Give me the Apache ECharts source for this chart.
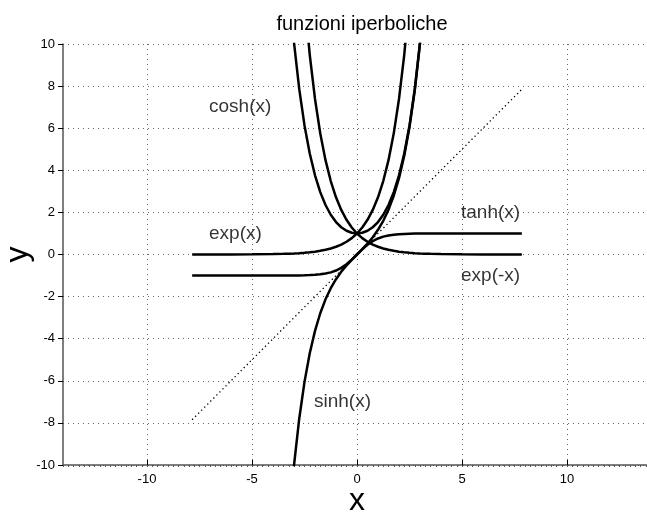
<!DOCTYPE html>
<html>
<head>
<meta charset="utf-8">
<title>funzioni iperboliche</title>
<script src="https://cdn.jsdelivr.net/npm/echarts@6/dist/echarts.min.js"></script>
<style>
  html, body { margin: 0; padding: 0; background: #fff; }
  #chart { width: 647px; height: 513px; }
</style>
</head>
<body>
<div id="chart"></div>
<script>
// campioni (x da -2.5pi a 2.5pi)
var xs = [-7.85, -7, -6, -5, -4, -3.5, -3.25, -3, -2.75, -2.5, -2.25, -2, -1.75, -1.5, -1.25, -1, -0.75, -0.5, -0.25, 0,
  0.25, 0.5, 0.75, 1, 1.25, 1.5, 1.75, 2, 2.25, 2.5, 2.75, 3, 3.25, 3.5, 4, 5, 6, 7, 7.85];

var expVals = [0.0004, 0.0009, 0.0025, 0.0067, 0.0183, 0.0302, 0.0388, 0.0498, 0.0639, 0.0821, 0.1054, 0.1353, 0.1738, 0.2231, 0.2865, 0.3679, 0.4724, 0.6065, 0.7788, 1,
  1.284, 1.6487, 2.117, 2.7183, 3.4903, 4.4817, 5.7546, 7.3891, 9.4877, 12.1825, 15.6426, 20.0855, 25.79, 33.115, 54.598, 148.41, 403.43, 1096.6, 2565.7];

var expNegVals = [2565.7, 1096.6, 403.43, 148.41, 54.598, 33.115, 25.79, 20.0855, 15.6426, 12.1825, 9.4877, 7.3891, 5.7546, 4.4817, 3.4903, 2.7183, 2.117, 1.6487, 1.284, 1,
  0.7788, 0.6065, 0.4724, 0.3679, 0.2865, 0.2231, 0.1738, 0.1353, 0.1054, 0.0821, 0.0639, 0.0498, 0.0388, 0.0302, 0.0183, 0.0067, 0.0025, 0.0009, 0.0004];

var coshVals = [1282.8, 548.32, 201.72, 74.21, 27.308, 16.573, 12.914, 10.0677, 7.8533, 6.1323, 4.7966, 3.7622, 2.9642, 2.3524, 1.8884, 1.5431, 1.2947, 1.1276, 1.0314, 1,
  1.0314, 1.1276, 1.2947, 1.5431, 1.8884, 2.3524, 2.9642, 3.7622, 4.7966, 6.1323, 7.8533, 10.0677, 12.914, 16.573, 27.308, 74.21, 201.72, 548.32, 1282.8];

var sinhVals = [-1282.8, -548.32, -201.71, -74.203, -27.29, -16.543, -12.876, -10.0179, -7.7894, -6.0502, -4.6912, -3.6269, -2.7904, -2.1293, -1.6019, -1.1752, -0.8223, -0.5211, -0.2526, 0,
  0.2526, 0.5211, 0.8223, 1.1752, 1.6019, 2.1293, 2.7904, 3.6269, 4.6912, 6.0502, 7.7894, 10.0179, 12.876, 16.543, 27.29, 74.203, 201.71, 548.32, 1282.8];

var tanhVals = [-1, -1, -1, -0.9999, -0.9993, -0.9982, -0.997, -0.9951, -0.9919, -0.9866, -0.978, -0.964, -0.9414, -0.9051, -0.8483, -0.7616, -0.6351, -0.4621, -0.2449, 0,
  0.2449, 0.4621, 0.6351, 0.7616, 0.8483, 0.9051, 0.9414, 0.964, 0.978, 0.9866, 0.9919, 0.9951, 0.997, 0.9982, 0.9993, 0.9999, 1, 1, 1];

var identityX = [-7.85, 7.85];
var identityY = [-7.85, 7.85];

var xTicks = [-10, -5, 0, 5, 10];

// etichette di testo (coordinate nei dati)
var labelNames = ['cosh(x)', 'exp(x)', 'tanh(x)', 'exp(-x)', 'sinh(x)'];
var labelX = [-7, -7, 5, 5, -2];
var labelY = [7, 1, 2, -1, -7];

var FONT = '"Liberation Sans", Arial, Helvetica, sans-serif';

function pairs(xv, yv) {
  return xv.map(function (x, i) { return [x, yv[i]]; });
}

function curve(name, vals) {
  return {
    name: name,
    type: 'line',
    data: pairs(xs, vals),
    symbol: 'none',
    clip: true,
    lineStyle: { color: '#000', width: 2.5 },
    z: 3
  };
}

var chart = echarts.init(document.getElementById('chart'), null, { renderer: 'canvas' });

var option = {
  backgroundColor: '#fff',
  animation: false,
  title: {
    text: 'funzioni iperboliche',
    left: 357,
    top: 9,
    textAlign: 'center',
    textStyle: { fontFamily: FONT, fontSize: 20, fontWeight: 'normal', color: '#000' }
  },
  grid: { left: 63, top: 44, right: -4, bottom: 48, containLabel: false, outerBoundsMode: 'none' },
  xAxis: [{
    type: 'value',
    min: -14,
    max: 14,
    name: 'x',
    nameLocation: 'middle',
    nameGap: 20,
    nameMoveOverlap: false,
    nameTextStyle: { fontFamily: FONT, fontSize: 32, color: '#000' },
    axisLine: { show: true, onZero: false, lineStyle: { color: '#555', width: 1.5 } },
    axisTick: { show: true, inside: true, length: 5, customValues: xTicks, lineStyle: { color: '#000', width: 1 } },
    axisLabel: { customValues: xTicks, margin: 8, fontFamily: FONT, fontSize: 13, color: '#000' },
    splitLine: { show: true, lineStyle: { color: '#666', width: 1, type: [1, 4] } }
  }, {
    // tacche minori
    type: 'value',
    min: -14,
    max: 14,
    interval: 0.25,
    position: 'bottom',
    axisLine: { show: false, onZero: false },
    axisTick: { show: true, inside: false, length: 2, lineStyle: { color: '#555', width: 1 } },
    axisLabel: { show: false },
    splitLine: { show: false }
  }],
  yAxis: {
    type: 'value',
    min: -10,
    max: 10,
    interval: 2,
    name: 'y',
    nameLocation: 'middle',
    nameGap: 29,
    nameRotate: 90,
    nameMoveOverlap: false,
    nameTextStyle: { fontFamily: FONT, fontSize: 32, color: '#000' },
    axisLine: { show: true, onZero: false, lineStyle: { color: '#555', width: 1.5 } },
    axisTick: { show: true, inside: false, length: 5, lineStyle: { color: '#000', width: 1 } },
    axisLabel: { margin: 8, fontFamily: FONT, fontSize: 13, color: '#000' },
    splitLine: { show: true, lineStyle: { color: '#666', width: 1, type: [1, 4] } }
  },
  series: [
    {
      name: 'y=x',
      type: 'line',
      data: pairs(identityX, identityY),
      symbol: 'none',
      lineStyle: { color: '#000', width: 1.3, type: [1.3, 3] },
      z: 2
    },
    curve('exp(x)', expVals),
    curve('exp(-x)', expNegVals),
    curve('cosh(x)', coshVals),
    curve('sinh(x)', sinhVals),
    curve('tanh(x)', tanhVals),
    {
      name: 'etichette',
      type: 'scatter',
      symbolSize: 0,
      data: labelNames.map(function (n, i) { return { name: n, value: [labelX[i], labelY[i]] }; }),
      label: {
        show: true,
        position: 'right',
        distance: -1,
        formatter: '{b}',
        fontFamily: FONT,
        fontSize: 19,
        color: '#000'
      },
      z: 4
    }
  ]
};

chart.setOption(option);
</script>
</body>
</html>
